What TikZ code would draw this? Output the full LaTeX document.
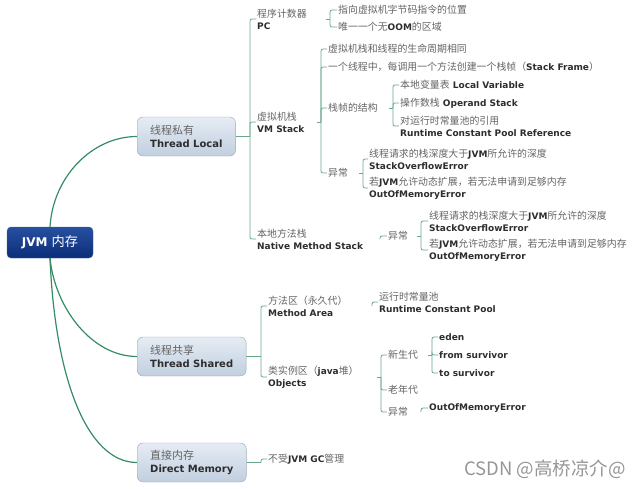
\documentclass[tikz,border=0pt]{standalone}
\usepackage{fontspec}
\setmainfont{DejaVu Sans}
\newfontfamily\cjk[Scale=1.1]{Noto Sans CJK SC}
\usepackage{tikz}
\usetikzlibrary{positioning}
\usepackage{xcolor}

\definecolor{curvegreen}{RGB}{52,140,100}
\definecolor{branchgreen}{RGB}{105,168,138}
\definecolor{topictop}{RGB}{230,236,244}
\definecolor{topicbot}{RGB}{192,207,223}
\definecolor{topicline}{RGB}{150,168,188}
\definecolor{roottop}{RGB}{38,80,160}
\definecolor{rootbot}{RGB}{12,45,122}
\definecolor{rootline}{RGB}{70,100,160}
\definecolor{zhgray}{RGB}{100,100,100}
\definecolor{engray}{RGB}{45,45,45}
\definecolor{wmgray}{RGB}{150,150,150}

\newcommand{\zh}[1]{{\normalfont\cjk\color{zhgray}#1}}

\begin{document}
\begin{tikzpicture}[x=1pt, y=-1pt,
  root/.style={draw=rootline, top color=roottop, bottom color=rootbot,
    rounded corners=4pt, text=white, font=\fontsize{12}{14}\selectfont\bfseries,
    minimum width=86pt, minimum height=31pt},
  topic/.style={draw=topicline, top color=topictop, bottom color=topicbot,
    rounded corners=6pt, anchor=west, align=left, inner xsep=13pt,
    minimum height=39pt, text=engray, font=\fontsize{10}{13}\selectfont\bfseries},
  leaf/.style={anchor=west, align=left, inner sep=1pt, text=engray,
    font=\fontsize{9}{12}\selectfont\bfseries},
  curve/.style={draw=curvegreen, line width=1.2pt},
  branch/.style={draw=branchgreen, line width=0.8pt, rounded corners=2pt},
]
\useasboundingbox (0,0) rectangle (640,488);

% main topics
\node[root] (jvm) at (50,242.5) {JVM {\mdseries\cjk 内存}};
\node[topic] (tl) at (137,136.5) {\zh{线程私有}\\Thread Local};
\node[topic] (ts) at (137,356.5) {\zh{线程共享}\\Thread Shared};
\node[topic] (dm) at (137,462.5) {\zh{直接内存}\\Direct Memory};

\draw[curve] (jvm.north) .. controls +(3,-50) and +(-45,0) .. (tl.west);
\draw[curve] (jvm.south) .. controls +(5,50) and +(-45,0) .. (ts.west);
\draw[curve] (jvm.south) .. controls +(5,120) and +(-50,0) .. (dm.west);

% thread local
\node[leaf] (pc) at (256,19) {\zh{程序计数器}\\PC};
\node[leaf] (vms) at (256,122) {\zh{虚拟机栈}\\VM Stack};
\node[leaf] (nms) at (256,239) {\zh{本地方法栈}\\Native Method Stack};

\node[leaf] (pc1) at (337,10) {\zh{指向虚拟机字节码指令的位置}};
\node[leaf] (pc2) at (337,27) {\zh{唯一一个无}OOM\zh{的区域}};

\node[leaf] (vs1) at (327,49) {\zh{虚拟机栈和线程的生命周期相同}};
\node[leaf] (vs2) at (327,67) {\zh{一个线程中，每调用一个方法创建一个栈帧（}Stack Frame\zh{）}};
\node[leaf] (vs3) at (327,108) {\zh{栈帧的结构}};
\node[leaf] (vs4) at (327,173) {\zh{异常}};

\node[leaf] (fr1) at (399,85) {\zh{本地变量表} Local Variable};
\node[leaf] (fr2) at (399,103) {\zh{操作数栈} Operand Stack};
\node[leaf] (fr3) at (399,126) {\zh{对运行时常量池的引用}\\Runtime Constant Pool Reference};

\node[leaf] (ve1) at (368,159) {\zh{线程请求的栈深度大于}JVM\zh{所允许的深度}\\StackOverflowError};
\node[leaf] (ve2) at (368,188) {\zh{若}JVM\zh{允许动态扩展，若无法申请到足够内存}\\OutOfMemoryError};

\node[leaf] (nx) at (387,236) {\zh{异常}};
\node[leaf] (ne1) at (428,221) {\zh{线程请求的栈深度大于}JVM\zh{所允许的深度}\\StackOverflowError};
\node[leaf] (ne2) at (428,250) {\zh{若}JVM\zh{允许动态扩展，若无法申请到足够内存}\\OutOfMemoryError};

% thread shared
\node[leaf] (ma) at (267,306) {\zh{方法区（永久代）}\\Method Area};
\node[leaf] (ob) at (267,377) {\zh{类实例区（}java\zh{堆）}\\Objects};
\node[leaf] (rcp) at (378,302) {\zh{运行时常量池}\\Runtime Constant Pool};
\node[leaf] (yg) at (387,355) {\zh{新生代}};
\node[leaf] (og) at (387,390) {\zh{老年代}};
\node[leaf] (oe) at (387,412) {\zh{异常}};
\node[leaf] (eden) at (438,337) {eden};
\node[leaf] (from) at (438,355) {from survivor};
\node[leaf] (to) at (438,373) {to survivor};
\node[leaf] (oom) at (428,408) {OutOfMemoryError};

% direct memory
\node[leaf] (gc) at (267,459) {\zh{不受}JVM GC\zh{管理}};

\node[anchor=west, inner sep=0pt, text=wmgray, font=\fontsize{16.8}{19}\selectfont\cjk]
  (mark) at (464,469) {CSDN @高桥凉介@};

% joints
\coordinate (jtl) at (250,136.5);
\coordinate (jpc) at (330,19);
\coordinate (jvs) at (321,122);
\coordinate (jfr) at (393,108);
\coordinate (jve) at (363,173);
\coordinate (jnm) at (380,239);
\coordinate (jnx) at (421,236);
\coordinate (jts) at (261,356.5);
\coordinate (jma) at (372,306);
\coordinate (job) at (381,377);
\coordinate (jyg) at (432,355);
\coordinate (joe) at (421,412);
\coordinate (jdm) at (261,462.5);

\draw[branch] (tl.east) -- (jtl);
\draw[branch] (ts.east) -- (jts);
\draw[branch] (dm.east) -- (jdm);
\foreach \j/\c in {jtl/pc, jtl/vms, jtl/nms, jpc/pc1, jpc/pc2,
    jvs/vs1, jvs/vs2, jvs/vs3, jvs/vs4, jfr/fr1, jfr/fr2, jfr/fr3,
    jve/ve1, jve/ve2, jnm/nx, jnx/ne1, jnx/ne2,
    jts/ma, jts/ob, jma/rcp, job/yg, job/og, job/oe,
    jyg/eden, jyg/from, jyg/to, joe/oom, jdm/gc}
  \draw[branch] (\j) |- (\c.west);
\foreach \j in {jpc,jvs,jfr,jve,jnx,job,jyg}
  \draw[branch] (\j) -- ++(-4,0);
\end{tikzpicture}
\end{document}
